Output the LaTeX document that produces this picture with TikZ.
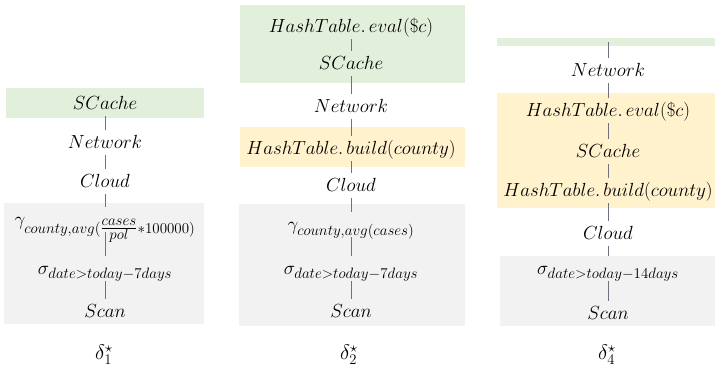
\documentclass[tikz,border=0pt]{standalone}
\usepackage{fix-cm}
\usepackage{tikz}
\DeclareMathSizes{19}{19}{15}{13}

\definecolor{cachegreen}{RGB}{226,239,218}
\definecolor{hashyellow}{RGB}{255,242,204}
\definecolor{scangrey}{RGB}{242,242,242}
\definecolor{linkgrey}{RGB}{108,114,126}

\begin{document}
\begin{tikzpicture}[-,x=1pt,y=-1pt,
  every edge/.style={draw=linkgrey,line width=0.8pt},
  op node/.style={font=\fontsize{19}{22}\selectfont,text height=13pt,text depth=0pt,inner sep=6pt},
  tag node/.style={font=\fontsize{21}{24}\selectfont,inner sep=2pt},
  cache bar/.style={fill=cachegreen,inner sep=0pt,minimum width=218pt,minimum height=8pt}]

  \useasboundingbox (0,0) rectangle (715,371);

  % coloured backgrounds
  \fill[cachegreen] (6,88) rectangle (204,118);
  \fill[scangrey] (4,203) rectangle (204,324);
  \fill[cachegreen] (240,5) rectangle (465,83);
  \fill[hashyellow] (240,127) rectangle (465,167);
  \fill[scangrey] (239,204) rectangle (465,326);
  \fill[hashyellow] (497,93) rectangle (715,208);
  \fill[scangrey] (500,256) rectangle (715,326);

  % plan 1
  \node[op node] (sc1) at (105,103.5) {$SCache$};
  \node[op node] (net1) at (105,142.5) {$Network$};
  \node[op node] (cl1) at (105,181.5) {$Cloud$};
  \node[op node] (agg1) at (105,219.5) {$\gamma_{county,avg({\textstyle\frac{cases}{pol}}*100000)}$};
  \node[op node] (sel1) at (105,268.5) {$\sigma_{date>today-7days}$};
  \node[op node] (scan1) at (105,311.5) {$Scan$};
  \node[tag node] (d1) at (104,355) {$\delta_1^\star$};

  % plan 2
  \node[op node] (ev2) at (351,26.5) {$HashTable.\,eval(\$c)$};
  \node[op node] (sc2) at (351,63.5) {$SCache$};
  \node[op node] (net2) at (351,106.5) {$Network$};
  \node[op node] (bu2) at (351,148.5) {$HashTable.\,build(county)$};
  \node[op node] (cl2) at (351,185.5) {$Cloud$};
  \node[op node] (agg2) at (351,224.5) {$\gamma_{county,avg(cases)}$};
  \node[op node] (sel2) at (351,268.5) {$\sigma_{date>today-7days}$};
  \node[op node] (scan2) at (351,311.5) {$Scan$};
  \node[tag node] (d2) at (349,355) {$\delta_2^\star$};

  % plan 4
  \node[cache bar] (top3) at (606,42) {};
  \node[op node] (net3) at (608,70.5) {$Network$};
  \node[op node] (ev3) at (608,110.5) {$HashTable.\,eval(\$c)$};
  \node[op node] (sc3) at (608,151.5) {$SCache$};
  \node[op node] (bu3) at (608,190.5) {$HashTable.\,build(county)$};
  \node[op node] (cl3) at (608,233.5) {$Cloud$};
  \node[op node] (sel3) at (608,268.5) {$\sigma_{date>today-14days}$};
  \node[op node] (scan3) at (608,313.5) {$Scan$};
  \node[tag node] (d4) at (607,355) {$\delta_4^\star$};

  \path
    (sc1) edge (net1)
    (net1) edge (cl1)
    (cl1) edge (agg1)
    (agg1) edge (sel1)
    (sel1) edge (scan1)
    (ev2) edge (sc2)
    (sc2) edge (net2)
    (net2) edge (bu2)
    (bu2) edge (cl2)
    (cl2) edge (agg2)
    (agg2) edge (sel2)
    (sel2) edge (scan2)
    (top3.center -| net3) edge (net3)
    (net3) edge (ev3)
    (ev3) edge (sc3)
    (sc3) edge (bu3)
    (bu3) edge (cl3)
    (cl3) edge (sel3)
    (sel3) edge (scan3)
    ;

\end{tikzpicture}
\end{document}
